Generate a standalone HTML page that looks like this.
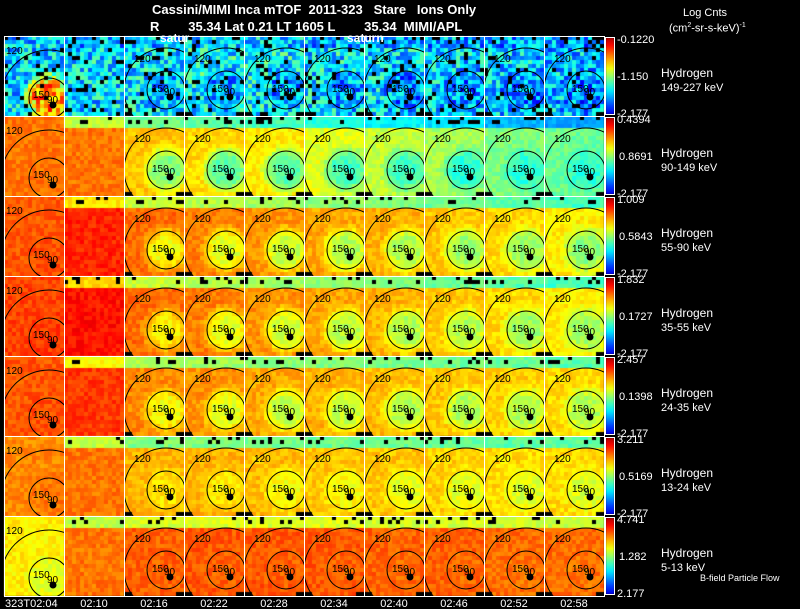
<!DOCTYPE html>
<html><head><meta charset="utf-8">
<style>
html,body{margin:0;padding:0;background:#000;}
#root{position:relative;width:800px;height:609px;background:#000;overflow:hidden;font-family:"Liberation Sans",sans-serif;color:#fff;}
.t{position:absolute;white-space:pre;font-size:12px;font-weight:bold;line-height:12px;}
.s{position:absolute;white-space:pre;font-size:11px;line-height:11px;}
canvas,svg{position:absolute;left:0;top:0;}
</style></head>
<body>
<div id="root">
<canvas id="cv" width="800" height="609"></canvas>
<svg id="ov" width="800" height="609"></svg>
<div class="t" style="left:152px;top:4px;font-size:13px">Cassini/MIMI Inca mTOF  2011-323   Stare   Ions Only</div>
<div class="t" style="left:150px;top:21px;font-size:13px">R        35.34 Lat 0.21 LT 1605 L        35.34  MIMI/APL</div>
<div class="t" style="left:160px;top:32px">satur</div>
<div class="t" style="left:347px;top:32px">saturn</div>
<div class="t" style="left:683px;top:7px;font-weight:normal;font-size:11px">Log Cnts</div>
<div class="t" style="left:669px;top:20px;font-weight:normal;font-size:11px">(cm<sup style="font-size:7px">2</sup>-sr-s-keV)<sup style="font-size:7px">-1</sup></div>
<div class="s" style="left:700px;top:573px;font-size:9px">B-field Particle Flow</div>
</div>
<script>
const times=["323T02:04","02:10","02:16","02:22","02:28","02:34","02:40","02:46","02:52","02:58"];
const energies=["149-227 keV","90-149 keV","55-90 keV","35-55 keV","24-35 keV","13-24 keV","5-13 keV"];
const cbTop=["-0.1220","0.4394","1.009","1.832","2.457","3.211","4.741"];
const cbMid=["-1.150","0.8691","0.5843","0.1727","0.1398","0.5169","1.282"];
const cbBot=["-2.177","-2.177","-2.177","-2.177","-2.177","-2.177","2.177"];
const outer=[
[0.32,0.33,0.34,0.36,0.36,0.34,0.33,0.32,0.31,0.30],
[0.76,0.76,0.68,0.66,0.64,0.60,0.57,0.54,0.50,0.48],
[0.79,0.84,0.77,0.75,0.73,0.71,0.70,0.68,0.66,0.64],
[0.81,0.86,0.77,0.75,0.73,0.71,0.70,0.68,0.66,0.64],
[0.79,0.82,0.74,0.73,0.71,0.70,0.69,0.68,0.67,0.66],
[0.74,0.76,0.70,0.70,0.69,0.68,0.68,0.67,0.66,0.66],
[0.64,0.76,0.78,0.79,0.79,0.79,0.78,0.78,0.77,0.77]];
const inner=[
[0.72,0.33,0.28,0.28,0.27,0.27,0.25,0.25,0.24,0.24],
[0.76,0.76,0.50,0.46,0.46,0.44,0.44,0.42,0.42,0.42],
[0.80,0.84,0.62,0.60,0.57,0.55,0.55,0.53,0.53,0.51],
[0.82,0.86,0.64,0.60,0.58,0.56,0.55,0.55,0.53,0.53],
[0.80,0.82,0.62,0.60,0.57,0.57,0.55,0.55,0.55,0.55],
[0.76,0.76,0.65,0.64,0.62,0.62,0.60,0.60,0.59,0.59],
[0.60,0.76,0.78,0.78,0.78,0.78,0.77,0.77,0.76,0.76]];

const X0=4,PW=60,Y0=36,PH=80,NC=10,NR=7,CS=4;
function cl(v){return Math.max(0,Math.min(1,v));}
function jet(v){v=cl(v);const r=cl(1.5-Math.abs(4*v-3)),g=cl(1.5-Math.abs(4*v-2)),b=cl(1.5-Math.abs(4*v-1));return `rgb(${r*255|0},${g*255|0},${b*255|0})`;}
function tex(i,j,k){let h=(i*73856093)^(j*19349663)^(k*83492791);h=(h^(h>>>13))*1274126177;h=h^(h>>>16);return ((h>>>0)%1000)/1000;}
const ctx=document.getElementById('cv').getContext('2d');
const ov=document.getElementById('ov');
const NS="http://www.w3.org/2000/svg";
function sv(tag,at){const e=document.createElementNS(NS,tag);for(const k in at)e.setAttribute(k,at[k]);ov.appendChild(e);return e;}

for(let r=0;r<NR;r++){for(let c=0;c<NC;c++){
 const px=X0+c*PW,py=Y0+r*PH;
 const ccx=(c==0?45:42),ccy=(c==0?62:54),rad=(c==0?20:19);
 for(let i=0;i<PW/CS;i++)for(let j=0;j<PH/CS;j++){
  const x=i*CS+2,y=j*CS+2;
  const d=Math.hypot(x-ccx,y-ccy);
  const f=cl((d-rad+6)/14);
  let v=inner[r][c]*(1-f)+outer[r][c]*f;
  const t=tex(i,j,r*10+c);
  if(j<3&&c>0)v-=(r==0?0.05:0.2);
  v+= (t-0.5)*(r==0?0.32:0.07);
  let black=false;
  if(c>0&&j<2&&t<0.15)black=true;
  if(r==0&&t<0.08)black=true;
  if(c>1&&j>=PH/CS-1&&(i<2||i>12))black=true;
  ctx.fillStyle=black?'#000':jet(v);
  ctx.fillRect(px+i*CS,py+j*CS,CS,CS);
 }
 const g=sv('g',{'clip-path':`url(#cp${r}_${c})`});
 
 
 const cp=sv('clipPath',{id:`cp${r}_${c}`});
 const cr=document.createElementNS(NS,'rect');cp.appendChild(cr);
 cr.setAttribute('x',px);cr.setAttribute('y',py);cr.setAttribute('width',PW);cr.setAttribute('height',PH);
 if(c!=1){
  const mk=(t,a)=>{const e=document.createElementNS(NS,t);for(const k in a)e.setAttribute(k,a[k]);g.appendChild(e);return e;};
  mk('circle',{cx:px+ccx,cy:py+ccy,r:rad,fill:'none',stroke:'#000','stroke-width':1});
  mk('circle',{cx:px+ccx,cy:py+ccy,r:(c==0?48:42),fill:'none',stroke:'#000','stroke-width':1});
  mk('circle',{cx:px+ccx+4,cy:py+ccy+7,r:3.5,fill:'#000'});
  const t1=mk('text',{x:px+(c==0?2:10),y:py+(c==0?18:26),'font-size':'10','font-family':'Liberation Sans,sans-serif',fill:'#000'});t1.textContent='120';
  const t2=mk('text',{x:px+ccx-(c==0?16:14),y:py+ccy+(c==0?0:2),'font-size':'10','font-family':'Liberation Sans,sans-serif',fill:'#000'});t2.textContent='150';
  const t3=mk('text',{x:px+ccx-2,y:py+ccy+5,'font-size':'10','font-family':'Liberation Sans,sans-serif',fill:'#000'});t3.textContent='90';
 }
 const b=sv('rect',{x:px+0.5,y:py+0.5,width:PW,height:PH,fill:'none',stroke:'#fff','stroke-width':1});
 
 
}
 const cy0=Y0+r*PH+2,ch=PH-4;
 const gr=ctx.createLinearGradient(0,cy0,0,cy0+ch);
 for(let k=0;k<=10;k++)gr.addColorStop(k/10,jet(0.95-k/10*0.85));
 ctx.fillStyle=gr;ctx.fillRect(606,cy0,8,ch);
 const cb=sv('rect',{x:605.5,y:cy0-0.5,width:9,height:ch+1,fill:'none',stroke:'#fff','stroke-width':1});
 
 
 const lbl=(txt,x,y,name,fs)=>{const e=sv('text',{x:x,y:y,'font-size':fs||11,'font-family':'Liberation Sans,sans-serif',fill:'#fff'});e.textContent=txt;};
 lbl(cbTop[r],617,Y0+r*PH+7,'colorbar-max');
 lbl(cbMid[r],(cbMid[r][0]=='-'?617:619),Y0+r*PH+44,'colorbar-mid');
 lbl(cbBot[r],617,Y0+r*PH+PH+1,'colorbar-min');
 lbl('Hydrogen',661,Y0+r*PH+41,'species-label',12);
 lbl(energies[r],661,Y0+r*PH+55,'energy-label',11);
}
for(let c=0;c<NC;c++){
 const e=sv('text',{x:c==0?5:X0+c*PW+PW/2,y:607,'font-size':11,'text-anchor':c==0?'start':'middle','font-family':'Liberation Sans,sans-serif',fill:'#fff'});
 e.textContent=times[c];
 
 
}
</script>
</body></html>
